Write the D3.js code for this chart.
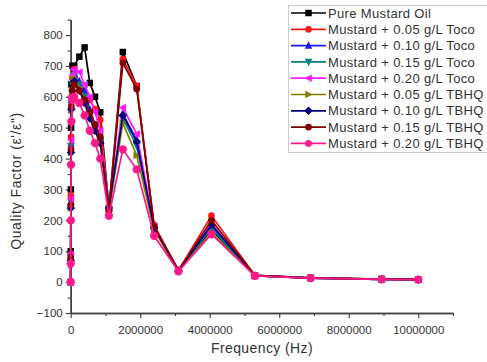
<!DOCTYPE html>
<html>
<head>
<meta charset="utf-8">
<script src="https://cdn.jsdelivr.net/npm/d3@7"></script>
<style>
  body { margin: 0; background: #fff; }
  svg { font-family: Arial, "Liberation Sans", sans-serif; }
</style>
</head>
<body>
<svg id="chart" width="487" height="362"></svg>
<script>
// Frequencies (Hz) of the sweep
const frequency = [100, 1000, 5000, 10000, 20000, 50000, 100000, 250000, 400000, 550000, 700000, 850000,
  1100000, 1500000, 1900000, 2400000, 3100000, 4050000, 5300000, 6900000, 8950000, 10000000];

const pureMustard  = [0, 100, 300, 500, 640, 700, 700, 730, 760, 645, 600, 550, 240, 745, 635, 180, 38, 170, 22, 14, 10, 9];
const toco005      = [0, 90, 280, 470, 600, 660, 690, 640, 610, 590, 560, 525, 235, 722, 635, 185, 38, 215, 22, 14, 10, 9];
const toco010      = [0, 80, 260, 450, 590, 650, 680, 650, 620, 560, 510, 460, 240, 545, 460, 175, 37, 180, 21, 13, 9, 8];
const toco015      = [0, 80, 260, 440, 580, 640, 670, 640, 600, 545, 500, 455, 235, 530, 440, 172, 37, 175, 21, 13, 9, 8];
const toco020      = [0, 90, 270, 460, 600, 670, 690, 680, 640, 600, 550, 490, 240, 565, 480, 180, 38, 190, 21, 13, 9, 8];
const tbhq005      = [0, 70, 240, 420, 560, 620, 660, 630, 590, 540, 490, 450, 230, 515, 410, 170, 36, 160, 20, 13, 9, 8];
const tbhq010      = [0, 70, 240, 420, 560, 620, 650, 620, 580, 530, 490, 450, 240, 540, 455, 175, 37, 185, 21, 13, 9, 8];
const tbhq015      = [0, 80, 250, 430, 570, 620, 640, 620, 590, 550, 510, 470, 230, 710, 625, 180, 38, 200, 22, 14, 10, 9];
const tbhq020      = [0, 60, 200, 380, 520, 590, 600, 580, 540, 490, 450, 400, 215, 430, 365, 150, 35, 155, 20, 13, 9, 8];

const seriesNames = ["Pure Mustard Oil", "Mustard + 0.05 g/L Toco", "Mustard + 0.10 g/L Toco",
  "Mustard + 0.15 g/L Toco", "Mustard + 0.20 g/L Toco", "Mustard + 0.05 g/L TBHQ",
  "Mustard + 0.10 g/L TBHQ", "Mustard + 0.15 g/L TBHQ", "Mustard + 0.20 g/L TBHQ"];
const seriesValues = [pureMustard, toco005, toco010, toco015, toco020, tbhq005, tbhq010, tbhq015, tbhq020];

const xTicks = [0, 2000000, 4000000, 6000000, 8000000, 10000000];
const yTicks = [-100, 0, 100, 200, 300, 400, 500, 600, 700, 800];

const colors = ["#000000", "#ff1a1a", "#1a1aff", "#008080", "#ff1aff", "#808000", "#000080", "#800000", "#ff1a8c"];

// symbol shapes: square, circle, triangle up, triangle down, left, right, diamond, circle, circle
const shapes = ["square", "circle", "up", "down", "left", "right", "diamond", "circle", "circle"];

const svg = d3.select('#chart');

const x = d3.scaleLinear().domain([0, 11000000]).range([70.7, 453]);
const y = d3.scaleLinear().domain([-100, 850]).range([313, 19.6]);

function markerPath(shape, s) {
  const h = s / 2;
  switch (shape) {
    case "square": return `M${-h},${-h}H${h}V${h}H${-h}Z`;
    case "up": return `M0,${-h - 1}L${h + 0.5},${h}L${-h - 0.5},${h}Z`;
    case "down": return `M0,${h + 1}L${h + 0.5},${-h}L${-h - 0.5},${-h}Z`;
    case "left": return `M${-h - 1},0L${h},${-h - 0.5}L${h},${h + 0.5}Z`;
    case "right": return `M${h + 1},0L${-h},${-h - 0.5}L${-h},${h + 0.5}Z`;
    case "diamond": return `M0,${-h - 1}L${h + 1},0L0,${h + 1}L${-h - 1},0Z`;
    default: return d3.symbol().type(d3.symbolCircle).size(s * s * 0.85)();
  }
}

// Axes
const xAxis = svg.append('g').attr('transform', `translate(0,${y(-100)})`)
  .call(d3.axisBottom(x).tickValues(xTicks).tickFormat(d3.format('d')).tickSize(5).tickSizeOuter(0));
const xMinor = svg.append('g').attr('transform', `translate(0,${y(-100)})`)
  .call(d3.axisBottom(x).tickValues(d3.range(1000000, 11000001, 2000000)).tickFormat('').tickSize(3).tickSizeOuter(0));
const yAxis = svg.append('g').attr('transform', `translate(${x(0)},0)`)
  .call(d3.axisLeft(y).tickValues(yTicks).tickSize(5).tickSizeOuter(0));
const yMinor = svg.append('g').attr('transform', `translate(${x(0)},0)`)
  .call(d3.axisLeft(y).tickValues(d3.range(-50, 851, 100)).tickFormat('').tickSize(3).tickSizeOuter(0));

[xAxis, xMinor, yAxis, yMinor].forEach(g => {
  g.select('.domain').attr('stroke', '#444').attr('stroke-width', 1.5);
  g.selectAll('line').attr('stroke', '#444').attr('stroke-width', 1.2);
  g.selectAll('text').attr('fill', '#333').style('font-size', '11.5px');
});
xAxis.selectAll('text').attr('dy', '1.1em');

// Axis titles
svg.append('text')
  .attr('x', 262).attr('y', 353)
  .attr('text-anchor', 'middle')
  .attr('fill', '#333')
  .style('font-size', '14px')
  .style('letter-spacing', '0.4px')
  .text('Frequency (Hz)');

svg.append('text')
  .attr('transform', `translate(21,${181}) rotate(-90)`)
  .attr('text-anchor', 'middle')
  .attr('fill', '#333')
  .style('font-size', '14px')
  .style('letter-spacing', '0.6px')
  .text('Quality Factor (\u03b5\'/\u03b5")');

// Series
const line = d3.line().x(d => x(d[0])).y(d => y(d[1]));

seriesValues.forEach((vals, i) => {
  const pts = frequency.map((f, j) => [f, vals[j]]);
  const g = svg.append('g');
  g.append('path')
    .attr('d', line(pts))
    .attr('fill', 'none')
    .attr('stroke', colors[i])
    .attr('stroke-width', 1.7);
  g.selectAll('path.pt')
    .data(pts)
    .enter()
    .append('path')
    .attr('class', 'pt')
    .attr('transform', d => `translate(${x(d[0])},${y(d[1])})`)
    .attr('d', markerPath(shapes[i], i === 8 ? 8 : 6.5))
    .attr('fill', colors[i]);
});

// Legend
const legend = svg.append('g');
legend.append('rect')
  .attr('x', 288.5).attr('y', 5.5)
  .attr('width', 205).attr('height', 147)
  .attr('fill', '#fff')
  .attr('stroke', '#ccc');

seriesNames.forEach((name, i) => {
  const ly = 13 + i * 16.3;
  legend.append('line')
    .attr('x1', 291).attr('x2', 326)
    .attr('y1', ly).attr('y2', ly)
    .attr('stroke', colors[i]).attr('stroke-width', 1.7);
  legend.append('path')
    .attr('transform', `translate(308.5,${ly})`)
    .attr('d', markerPath(shapes[i], 6.5))
    .attr('fill', colors[i]);
  legend.append('text')
    .attr('x', 328).attr('y', ly)
    .attr('dy', '0.36em')
    .attr('fill', '#333')
    .style('font-size', '13px')
    .style('letter-spacing', '0.35px')
    .text(name);
});
</script>
</body>
</html>
